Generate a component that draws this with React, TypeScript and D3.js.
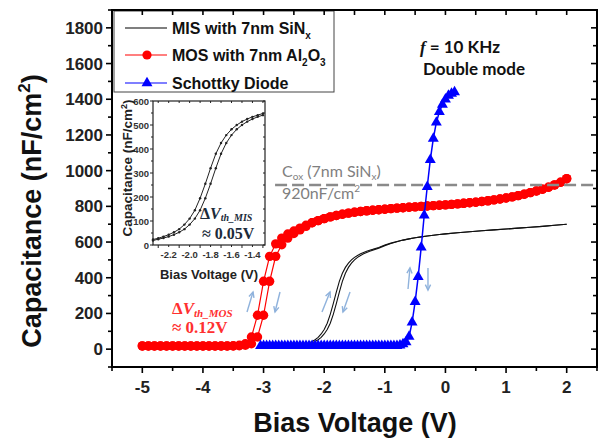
import React from "react";
import * as d3 from "d3";

// ---- data ----
const mosVoltage = [-5, -4.9, -4.8, -4.7, -4.6, -4.5, -4.4, -4.3, -4.2, -4.1, -4, -3.9, -3.8, -3.7, -3.6, -3.5, -3.4, -3.3, -3.2, -3.1, -3, -2.9, -2.8, -2.7, -2.6, -2.5, -2.4, -2.3, -2.2, -2.1, -2, -1.9, -1.8, -1.7, -1.6, -1.5, -1.4, -1.3, -1.2, -1.1, -1, -0.9, -0.8, -0.7, -0.6, -0.5, -0.4, -0.3, -0.2, -0.1, 0, 0.1, 0.2, 0.3, 0.4, 0.5, 0.6, 0.7, 0.8, 0.9, 1, 1.1, 1.2, 1.3, 1.4, 1.5, 1.6, 1.7, 1.8, 1.9, 2];
const mosForward = [18, 18, 18, 18, 18, 18, 18, 18, 18, 18, 18, 18, 18, 18, 18, 19, 22, 30, 68, 190, 380, 520, 590, 622, 645, 662, 678, 694, 708, 720, 731, 741, 749, 756, 762, 767, 771, 775, 778, 781, 784, 787, 790, 792, 795, 797, 800, 802, 804, 806, 808, 811, 814, 817, 820, 823, 827, 831, 836, 841, 847, 853, 860, 868, 877, 886, 896, 907, 920, 935, 955];
const mosReverse = [18, 18, 18, 18, 18, 18, 18, 18, 18, 18, 18, 18, 18, 18, 18, 18, 19, 22, 30, 68, 190, 380, 520, 585, 622, 648, 668, 688, 708, 720, 731, 741, 749, 756, 762, 767, 771, 775, 778, 781, 784, 787, 790, 792, 795, 797, 800, 802, 804, 806, 808, 811, 814, 817, 820, 823, 827, 831, 836, 841, 847, 853, 860, 868, 877, 886, 896, 907, 920, 935, 955];

const misVoltage = [-3.1, -3, -2.9, -2.8, -2.7, -2.6, -2.5, -2.4, -2.35, -2.3, -2.25, -2.2, -2.15, -2.1, -2.05, -2, -1.95, -1.9, -1.85, -1.8, -1.75, -1.7, -1.65, -1.6, -1.55, -1.5, -1.45, -1.4, -1.35, -1.3, -1.25, -1.2, -1.1, -1, -0.9, -0.8, -0.7, -0.6, -0.5, -0.4, -0.3, -0.2, -0.1, 0, 0.2, 0.4, 0.6, 0.8, 1, 1.2, 1.4, 1.6, 1.8, 2];
const misForward = [10, 10, 10, 11, 11, 12, 14, 18, 23, 28, 35, 43, 53, 66, 85, 110, 145, 195, 255, 320, 380, 425, 458, 482, 500, 514, 525, 534, 541, 548, 554, 559, 570, 583, 594, 603, 611, 618, 624, 629, 634, 638, 642, 646, 652, 658, 663, 668, 673, 678, 683, 688, 694, 700];
const misReverse = [10, 10, 10, 11, 11, 12, 13, 15, 19, 24, 29, 35, 43, 53, 66, 85, 110, 145, 195, 255, 320, 380, 425, 458, 482, 500, 514, 525, 534, 541, 548, 554, 566, 580, 592, 602, 611, 618, 624, 629, 634, 638, 642, 646, 652, 658, 663, 668, 673, 678, 683, 688, 694, 700];

const schVoltage = [-3.05, -3, -2.95, -2.9, -2.85, -2.8, -2.75, -2.7, -2.65, -2.6, -2.55, -2.5, -2.45, -2.4, -2.35, -2.3, -2.25, -2.2, -2.15, -2.1, -2.05, -2, -1.95, -1.9, -1.85, -1.8, -1.75, -1.7, -1.65, -1.6, -1.55, -1.5, -1.45, -1.4, -1.35, -1.3, -1.25, -1.2, -1.15, -1.1, -1.05, -1, -0.95, -0.9, -0.85, -0.8, -0.75, -0.7, -0.65, -0.6, -0.55, -0.5, -0.45, -0.4, -0.35, -0.3, -0.25, -0.2, -0.15, -0.1, -0.05, 0, 0.05, 0.1, 0.15];
const schCap = [18, 18, 18, 18, 18, 18, 18, 18, 18, 18, 18, 18, 18, 18, 18, 18, 18, 18, 18, 18, 18, 18, 18, 18, 18, 18, 18, 18, 18, 18, 18, 18, 18, 18, 18, 18, 18, 18, 18, 18, 18, 18, 18, 18, 18, 18, 22, 28, 40, 70, 150, 265, 405, 570, 750, 910, 1060, 1180, 1270, 1330, 1370, 1400, 1420, 1432, 1440];

const coxLevel = 920;
const xTickValues = [-5, -4, -3, -2, -1, 0, 1, 2];
const yTickValues = [0, 200, 400, 600, 800, 1000, 1200, 1400, 1600, 1800];
const insetXTicks = [-2.2, -2.0, -1.8, -1.6, -1.4];
const insetYTicks = [0, 100, 200, 300, 400, 500, 600];

// sweep-direction arrows [v0, c0, v1, c1]
const sweepArrows = [
  [-3.273, 208, -3.174, 320],
  [-2.729, 320, -2.811, 208],
  [-2.036, 208, -1.904, 320],
  [-1.574, 320, -1.69, 208],
  [-0.617, 337, -0.585, 455],
  [-0.288, 455, -0.288, 331],
];

const SANS = "'Liberation Sans', Arial, sans-serif";
const SERIF = "'Liberation Serif', 'DejaVu Serif', serif";
const CAL = "Lato, 'Open Sans', sans-serif";

const x = d3.scaleLinear().domain([-5.5, 2.5]).range([112, 597]);
const y = d3.scaleLinear().domain([-100, 1900]).range([367, 10]);
const ix = d3.scaleLinear().domain([-2.35, -1.28]).range([153, 265]);
const iy = d3.scaleLinear().domain([0, 600]).range([245, 101]);

const zip = (a: number[], b: number[]) => a.map((v, i) => [v, b[i]] as [number, number]);

const mainLine = d3.line<[number, number]>().x(d => x(d[0])).y(d => y(d[1]));
const insetLine = d3.line<[number, number]>().x(d => ix(d[0])).y(d => iy(d[1]));
const tri = d3.symbol().type(d3.symbolTriangle).size(52)()!;

function Arrow({ a }: { a: number[] }) {
  const x0 = x(a[0]), y0 = y(a[1]), x1 = x(a[2]), y1 = y(a[3]);
  const ang = Math.atan2(y1 - y0, x1 - x0);
  const h = 6, s = 0.45;
  const p1 = [x1 - h * Math.cos(ang - s), y1 - h * Math.sin(ang - s)];
  const p2 = [x1 - h * Math.cos(ang + s), y1 - h * Math.sin(ang + s)];
  return (
    <g stroke="#8fb2dc" strokeWidth={1.4} fill="none">
      <line x1={x0} y1={y0} x2={x1} y2={y1} />
      <polyline points={`${p1[0]},${p1[1]} ${x1},${y1} ${p2[0]},${p2[1]}`} />
    </g>
  );
}

export default function App() {
  const mosF = zip(mosVoltage, mosForward);
  const mosR = zip(mosVoltage, mosReverse);
  const misF = zip(misVoltage, misForward);
  const misR = zip(misVoltage, misReverse);
  const sch = zip(schVoltage, schCap);
  const insetMisF = misF.filter(d => d[0] >= -2.35 && d[0] <= -1.28);
  const insetMisR = misR.filter(d => d[0] >= -2.35 && d[0] <= -1.28);

  const [x0, x1] = x.range();
  const [y0, y1] = y.range();

  return (
    <svg width={600} height={439} style={{ position: "absolute", left: 0, top: 0, background: "#fff" }}>
      <rect width={600} height={439} fill="#fff" />

      {/* legend */}
      <rect x={114} y={11} width={220} height={81} fill="#fff" stroke="#444" strokeWidth={1} />
      <g fontFamily={SANS} fontWeight="bold" fontSize={16} fill="#111">
        <line x1={125} x2={167} y1={28} y2={28} stroke="#000" strokeWidth={1.2} />
        <text x={172} y={34}>MIS with 7nm SiN<tspan fontSize={10} dy={5}>x</tspan></text>
        <line x1={125} x2={167} y1={55} y2={55} stroke="#f00" strokeWidth={1.2} />
        <circle cx={147} cy={55} r={4.6} fill="#f00" />
        <text x={172} y={61}>MOS with 7nm Al<tspan fontSize={10} dy={5}>2</tspan><tspan dy={-5}>O</tspan><tspan fontSize={10} dy={5}>3</tspan></text>
        <line x1={125} x2={167} y1={83} y2={83} stroke="#00f" strokeWidth={1.2} />
        <path d={tri} transform={`translate(147,83)`} fill="#00f" />
        <text x={172} y={89}>Schottky Diode</text>
      </g>

      {/* MIS */}
      <path d={mainLine(misF)!} fill="none" stroke="#111" strokeWidth={1.1} />
      <path d={mainLine(misR)!} fill="none" stroke="#111" strokeWidth={1.1} />

      {/* MOS */}
      <path d={mainLine(mosF)!} fill="none" stroke="#f00" strokeWidth={1.2} />
      <path d={mainLine(mosR)!} fill="none" stroke="#f00" strokeWidth={1.2} />
      {[...mosF, ...mosR].map((d, i) => (
        <circle key={"m" + i} cx={x(d[0])} cy={y(d[1])} r={4.7} fill="#f00" />
      ))}

      {/* Cox line */}
      <line x1={x(-2.81)} x2={x1} y1={y(coxLevel)} y2={y(coxLevel)} stroke="#8a8a8a" strokeWidth={2.5} strokeDasharray="12 5" />

      {/* Schottky */}
      <path d={mainLine(sch)!} fill="none" stroke="#00f" strokeWidth={1.5} />
      {sch.map((d, i) => (
        <path key={"s" + i} d={tri} transform={`translate(${x(d[0])},${y(d[1])})`} fill="#00f" />
      ))}

      {sweepArrows.map((a, i) => <Arrow key={"a" + i} a={a} />)}

      {/* annotations */}
      <g fontFamily={CAL} fontWeight="bold" fontSize={17} fill="#111">
        <text x={x(-0.42)} y={y(1660)}><tspan fontStyle="italic" fontFamily={SERIF}>f</tspan> = 10 KHz</text>
        <text x={x(-0.37)} y={y(1536)}>Double mode</text>
      </g>
      <g fontFamily={CAL} fontSize={16} fill="#7f7f7f">
        <text x={x(-2.696)} y={y(965)}>C<tspan fontSize={10} dy={3}>ox</tspan><tspan dy={-3}> (7nm SiN</tspan><tspan fontSize={10} dy={3}>x</tspan><tspan dy={-3}>)</tspan></text>
        <text x={x(-2.696)} y={y(842)}>920nF/cm<tspan fontSize={10} dy={-7}>2</tspan></text>
      </g>
      <g fontFamily={SERIF} fontWeight="bold" fontSize={17} fill="#ff3030">
        <text x={x(-4.51)} y={y(196)}>Δ<tspan fontStyle="italic">V</tspan><tspan fontStyle="italic" fontSize={11} dy={3}>th_MOS</tspan></text>
        <text x={x(-4.51)} y={y(92)}>≈ 0.12V</text>
      </g>

      {/* main frame & ticks */}
      <g stroke="#000" strokeWidth={1.6}>
        {x.ticks(16).map((t, i) => {
          const major = xTickValues.includes(t);
          return (
            <g key={"xt" + i}>
              <line x1={x(t)} x2={x(t)} y1={y0} y2={y0 + (major ? 6 : 4)} />
              <line x1={x(t)} x2={x(t)} y1={y1} y2={y1 + 5} />
            </g>
          );
        })}
        {y.ticks(20).map((t, i) => {
          const major = yTickValues.includes(t);
          return (
            <g key={"yt" + i}>
              <line x1={x0} x2={x0 - (major ? 6 : 4)} y1={y(t)} y2={y(t)} />
              <line x1={x1} x2={x1 - (major ? 6 : 4)} y1={y(t)} y2={y(t)} />
            </g>
          );
        })}
      </g>
      <rect x={x0} y={y1} width={x1 - x0} height={y0 - y1} fill="none" stroke="#000" strokeWidth={2} />
      <g fontFamily={SANS} fontWeight="bold" fontSize={17} fill="#222">
        {xTickValues.map(t => (
          <text key={"xl" + t} x={x(t)} y={393} textAnchor="middle">{String(t)}</text>
        ))}
        {yTickValues.map(t => (
          <text key={"yl" + t} x={103} y={y(t) + 6} textAnchor="end">{String(t)}</text>
        ))}
      </g>
      <text x={355} y={432} textAnchor="middle" fontFamily={SANS} fontWeight="bold" fontSize={27} fill="#111">Bias Voltage (V)</text>
      <text transform="translate(41,211) rotate(-90)" textAnchor="middle" fontFamily={SANS} fontWeight="bold" fontSize={27} fill="#111">
        Capacitance (nF/cm<tspan fontSize={17} dy={-11}>2</tspan><tspan dy={11}>)</tspan>
      </text>

      {/* inset */}
      <rect x={153} y={101} width={112} height={144} fill="#fff" />
      <path d={insetLine(insetMisF)!} fill="none" stroke="#222" strokeWidth={1} />
      <path d={insetLine(insetMisR)!} fill="none" stroke="#222" strokeWidth={1} />
      {[...insetMisF, ...insetMisR].map((d, i) => (
        <circle key={"im" + i} cx={ix(d[0])} cy={iy(d[1])} r={1.2} fill="#222" />
      ))}
      <g stroke="#222" strokeWidth={1}>
        {ix.ticks(10).map((t, i) => (
          <g key={"ixt" + i}>
            <line x1={ix(t)} x2={ix(t)} y1={245} y2={245 + (i % 2 === 0 ? 3 : 2)} />
            <line x1={ix(t)} x2={ix(t)} y1={101} y2={103} />
          </g>
        ))}
        {iy.ticks(12).map((t, i) => (
          <g key={"iyt" + i}>
            <line x1={153} x2={153 - (t % 100 === 0 ? 3 : 2)} y1={iy(t)} y2={iy(t)} />
            <line x1={265} x2={263} y1={iy(t)} y2={iy(t)} />
          </g>
        ))}
      </g>
      <rect x={153} y={101} width={112} height={144} fill="none" stroke="#222" strokeWidth={1.2} />
      <g fontFamily={SANS} fontWeight="bold" fontSize={9.5} fill="#333">
        {insetXTicks.map(t => (
          <text key={"ixl" + t} x={ix(t)} y={258} textAnchor="middle">{t.toFixed(1)}</text>
        ))}
        {insetYTicks.map(t => (
          <text key={"iyl" + t} x={149} y={iy(t) + 3.5} textAnchor="end">{String(t)}</text>
        ))}
      </g>
      <text x={209} y={279} textAnchor="middle" fontFamily={SANS} fontWeight="bold" fontSize={13} fill="#222">Bias Voltage (V)</text>
      <text transform="translate(132,168) rotate(-90)" textAnchor="middle" fontFamily={SANS} fontWeight="bold" fontSize={13.5} fill="#222">
        Capacitance (nF/cm<tspan fontSize={9} dy={-5}>2</tspan><tspan dy={5}>)</tspan>
      </text>
      <g fontFamily={SERIF} fontWeight="bold" fontSize={16} fill="#1c2b3a">
        <text x={ix(-1.901)} y={iy(108)}>Δ<tspan fontStyle="italic">V</tspan><tspan fontStyle="italic" fontSize={10} dy={2}>th_MIS</tspan></text>
        <text x={ix(-1.882)} y={iy(27)}>≈ 0.05V</text>
      </g>
    </svg>
  );
}
